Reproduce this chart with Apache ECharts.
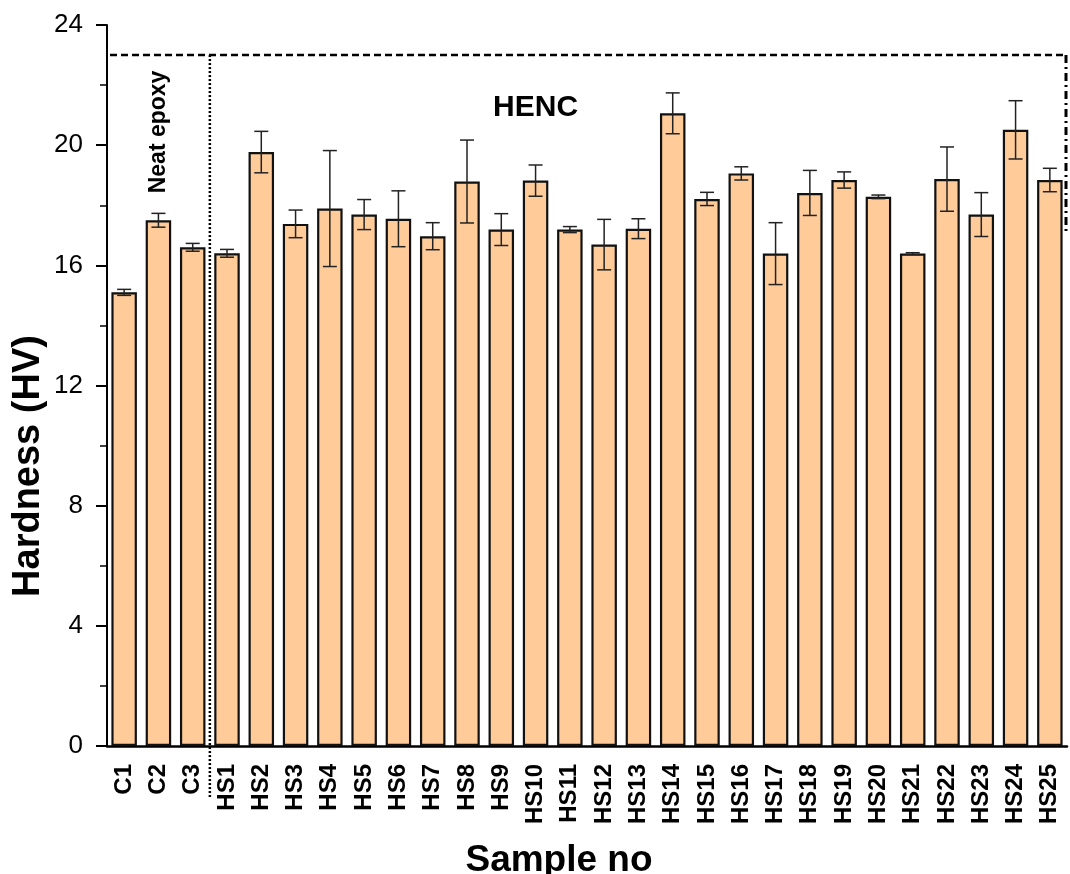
<!DOCTYPE html>
<html>
<head>
<meta charset="utf-8" />
<script src="https://cdn.jsdelivr.net/npm/echarts@6/dist/echarts.min.js"></script>
<style>
  html, body { margin: 0; padding: 0; background: #fff; }
  #chart { width: 1070px; height: 874px; }
</style>
</head>
<body>
<div id="chart"></div>
<script>
const samples = [
  "C1", "C2", "C3",
  "HS1", "HS2", "HS3", "HS4", "HS5", "HS6", "HS7", "HS8", "HS9", "HS10",
  "HS11", "HS12", "HS13", "HS14", "HS15", "HS16", "HS17", "HS18", "HS19", "HS20",
  "HS21", "HS22", "HS23", "HS24", "HS25",
];

const hardness = [
  15.1, 17.5, 16.6,
  16.4, 19.77, 17.38, 17.89, 17.69, 17.55, 16.97, 18.79, 17.19, 18.82,
  17.19, 16.69, 17.22, 21.06, 18.21, 19.06, 16.39, 18.41, 18.84, 18.28,
  16.39, 18.87, 17.69, 20.51, 18.84,
];

const hardnessSd = [
  0.1, 0.23, 0.13,
  0.13, 0.69, 0.46, 1.93, 0.5, 0.93, 0.45, 1.38, 0.53, 0.52,
  0.1, 0.84, 0.33, 0.68, 0.22, 0.22, 1.03, 0.75, 0.27, 0.06,
  0.03, 1.07, 0.73, 0.97, 0.39,
];

const yTicks = { min: 0, max: 24, interval: 4 };

// dashed frame around the HENC group
const frameTop = 23;
const frameRightBottom = 17.08;

const fontFamily = "'Liberation Sans', Arial, sans-serif";

const chartDom = document.getElementById("chart");
const chart = echarts.init(chartDom);

const errorData = samples.map((name, i) => [
  i,
  hardness[i] - hardnessSd[i],
  hardness[i] + hardnessSd[i],
]);

const option = {
  backgroundColor: "#fff",
  animation: false,
  grid: {
    left: 107,
    right: 3,
    top: 25,
    bottom: 128,
    containLabel: false,
    outerBoundsMode: "none",
  },
  xAxis: {
    type: "category",
    data: samples,
    name: "Sample no",
    nameLocation: "middle",
    nameGap: 96,
    nameTextStyle: {
      fontFamily,
      fontSize: 37,
      fontWeight: "bold",
      color: "#000",
      padding: [0, 56, 0, 0],
    },
    axisLine: { lineStyle: { color: "#000", width: 2.5 } },
    axisTick: { show: false },
    axisLabel: {
      rotate: 90,
      margin: 18,
      interval: 0,
      fontFamily,
      fontSize: 24,
      fontWeight: "bold",
      color: "#000",
    },
  },
  yAxis: {
    type: "value",
    min: yTicks.min,
    max: yTicks.max,
    interval: yTicks.interval,
    axisLine: { show: true, lineStyle: { color: "#000", width: 2 } },
    axisTick: { show: true, length: 11, lineStyle: { color: "#000", width: 2 } },
    minorTick: { show: true, splitNumber: 2, length: 7, lineStyle: { color: "#000", width: 1.5 } },
    splitLine: { show: false },
    axisLabel: {
      margin: 24,
      fontFamily,
      fontSize: 26,
      color: "#000",
    },
  },
  series: [
    {
      name: "Hardness",
      type: "bar",
      data: hardness,
      barWidth: 25.5,
      itemStyle: {
        color: "#FFCC99",
        borderColor: "#111",
        borderWidth: 2.2,
      },
      z: 2,
    },
    {
      name: "Error",
      type: "custom",
      data: errorData,
      z: 3,
      renderItem: function (params, api) {
        const x = api.value(0);
        const lo = api.coord([x, api.value(1)]);
        const hi = api.coord([x, api.value(2)]);
        const half = 7;
        const style = { stroke: "#222", lineWidth: 1.5 };
        return {
          type: "group",
          children: [
            { type: "line", shape: { x1: hi[0], y1: hi[1], x2: lo[0], y2: lo[1] }, style },
            { type: "line", shape: { x1: hi[0] - half, y1: hi[1], x2: hi[0] + half, y2: hi[1] }, style },
            { type: "line", shape: { x1: lo[0] - half, y1: lo[1], x2: lo[0] + half, y2: lo[1] }, style },
          ],
        };
      },
    },
  ],
};

chart.setOption(option);

// annotations placed through the chart's own scales
const px = (cat, val) => chart.convertToPixel({ gridIndex: 0 }, [cat, val]);
const c3 = px("C3", 0);
const hs1 = px("HS1", 0);
const hs24 = px("HS24", 0);
const hs25 = px("HS25", 0);
const yBase = px("C1", 0)[1];
const yTop = px("C1", frameTop)[1];
const yRightEnd = px("C1", frameRightBottom)[1];
const splitX = (c3[0] + hs1[0]) / 2;
const rightX = hs25[0] + (hs25[0] - hs24[0]) / 2 - 1;
const axisX = px("C1", 0)[0] - (hs1[0] - c3[0]) / 2;
const leftX = axisX + 3;
const neat = px("C2", 20.44);
const henc = px("HS10", 21.24);
const yName = px("C1", 9.32);

chart.setOption({
  graphic: [
    {
      type: "line",
      shape: { x1: leftX, y1: yTop, x2: rightX, y2: yTop },
      style: { stroke: "#000", lineWidth: 2.5, lineDash: [7, 4] },
      z: 10,
    },
    {
      type: "line",
      shape: { x1: rightX, y1: yTop, x2: rightX, y2: yRightEnd },
      style: { stroke: "#000", lineWidth: 3, lineDash: [8, 4, 2, 4] },
      z: 10,
    },
    {
      type: "line",
      shape: { x1: splitX, y1: yTop, x2: splitX, y2: yBase + 51 },
      style: { stroke: "#000", lineWidth: 2.5, lineDash: [2, 2] },
      z: 10,
    },
    {
      type: "text",
      x: neat[0],
      y: neat[1],
      rotation: Math.PI / 2,
      style: {
        text: "Neat epoxy",
        fontFamily,
        fontSize: 23,
        fontWeight: "bold",
        fill: "#000",
        align: "center",
        verticalAlign: "middle",
      },
      z: 10,
    },
    {
      type: "text",
      x: henc[0],
      y: henc[1],
      style: {
        text: "HENC",
        fontFamily,
        fontSize: 30,
        fontWeight: "bold",
        fill: "#000",
        align: "center",
        verticalAlign: "middle",
      },
      z: 10,
    },
    {
      // y axis title
      type: "text",
      x: axisX - 78,
      y: yName[1],
      rotation: Math.PI / 2,
      style: {
        text: "Hardness (HV)",
        fontFamily,
        fontSize: 38,
        fontWeight: "bold",
        fill: "#000",
        align: "center",
        verticalAlign: "middle",
      },
      z: 10,
    },
  ],
});

window.addEventListener("resize", () => chart.resize());
</script>
</body>
</html>
